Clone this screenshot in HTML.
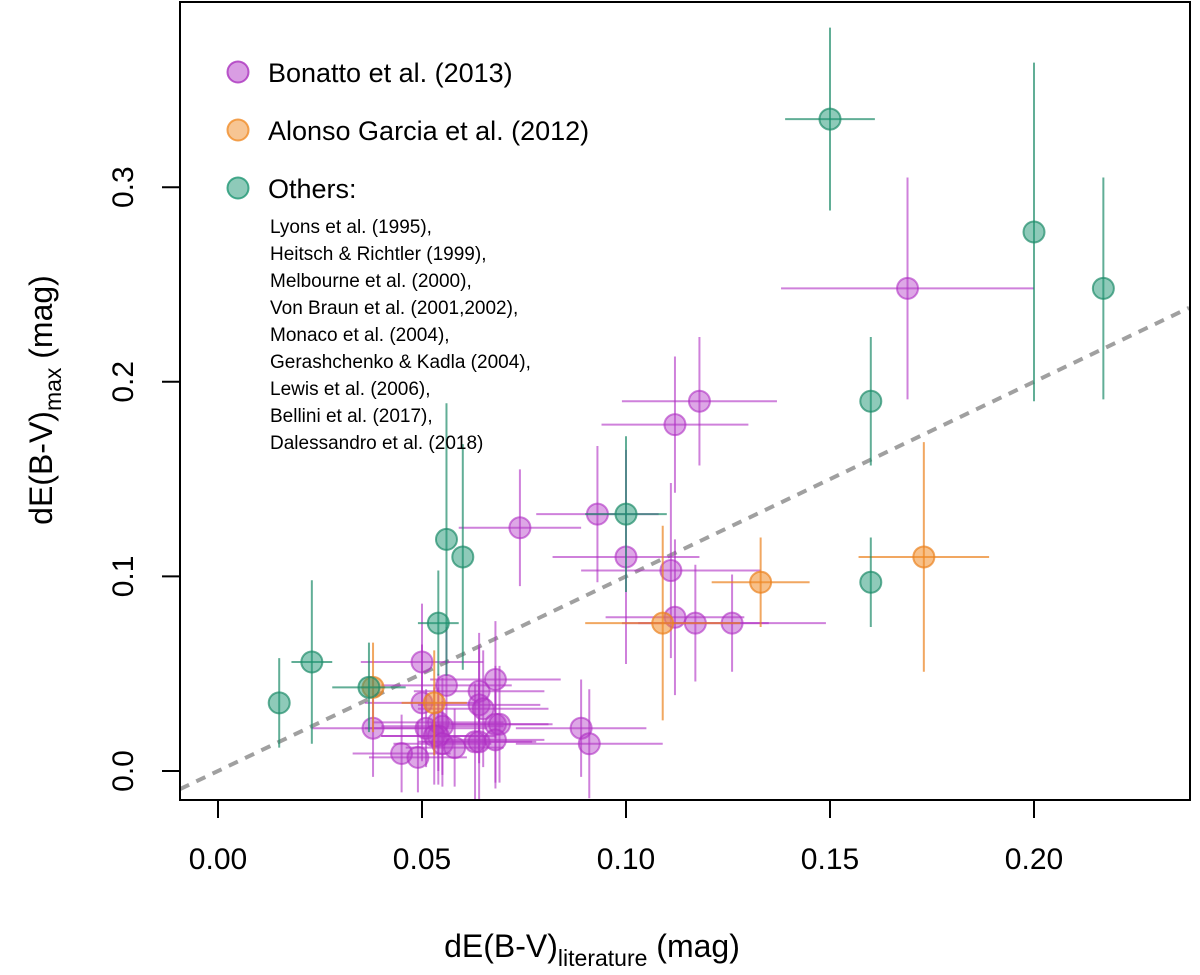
<!DOCTYPE html>
<html><head><meta charset="utf-8"><style>
body{margin:0;background:#fff;}
svg text{font-family:"Liberation Sans",Arial,sans-serif;}
</style></head><body>
<svg id="chart" width="1200" height="970" xmlns="http://www.w3.org/2000/svg">
<g id="marks"></g>
<rect x="180" y="2" width="1010" height="798" fill="none" stroke="#000" stroke-width="2"/>
<g id="axes"></g>
<text x="592" y="957" font-size="32" text-anchor="middle">dE(B-V)<tspan font-size="23" dy="9">literature</tspan><tspan dy="-9"> (mag)</tspan></text>
<text transform="translate(52,400) rotate(-90)" font-size="32" text-anchor="middle">dE(B-V)<tspan font-size="23" dy="9">max</tspan><tspan dy="-9"> (mag)</tspan></text>
<g>
<circle cx="238" cy="72" r="10.5" fill="rgba(180,60,200,0.5)" stroke="rgba(170,50,190,0.8)" stroke-width="2"/>
<text x="268" y="82" font-size="27">Bonatto et al. (2013)</text>
<circle cx="238" cy="130" r="10.5" fill="rgba(240,140,40,0.5)" stroke="rgba(240,140,40,0.8)" stroke-width="2"/>
<text x="268" y="140" font-size="27">Alonso Garcia et al. (2012)</text>
<circle cx="238" cy="188" r="10.5" fill="rgba(30,150,115,0.5)" stroke="rgba(30,150,115,0.8)" stroke-width="2"/>
<text x="268" y="198" font-size="27">Others:</text>
<g font-size="19">
<text x="270" y="233">Lyons et al. (1995),</text>
<text x="270" y="260">Heitsch &amp; Richtler (1999),</text>
<text x="270" y="287">Melbourne et al. (2000),</text>
<text x="270" y="314">Von Braun et al. (2001,2002),</text>
<text x="270" y="341">Monaco et al. (2004),</text>
<text x="270" y="368">Gerashchenko &amp; Kadla (2004),</text>
<text x="270" y="395">Lewis et al. (2006),</text>
<text x="270" y="422">Bellini et al. (2017),</text>
<text x="270" y="449">Dalessandro et al. (2018)</text>
</g></g>
</svg>
<script>
const xTicks=[0,0.05,0.10,0.15,0.20];
const xTickLabels=["0.00","0.05","0.10","0.15","0.20"];
const yTicks=[0,0.1,0.2,0.3];
const yTickLabels=["0.0","0.1","0.2","0.3"];
const bonX=[0.050,0.038,0.050,0.056,0.064,0.068,0.064,0.065,0.051,0.054,0.055,0.054,0.053,0.055,0.058,0.045,0.049,0.063,0.064,0.068,0.069,0.068,0.089,0.091,0.118,0.112,0.074,0.093,0.100,0.111,0.112,0.117,0.126,0.169];
const bonY=[0.056,0.022,0.035,0.044,0.041,0.047,0.034,0.032,0.022,0.025,0.023,0.018,0.018,0.014,0.012,0.009,0.007,0.015,0.015,0.024,0.024,0.016,0.022,0.014,0.190,0.178,0.125,0.132,0.110,0.103,0.079,0.076,0.076,0.248];
const bonXerr=[0.015,0.015,0.014,0.016,0.016,0.016,0.015,0.016,0.015,0.016,0.015,0.014,0.013,0.012,0.012,0.012,0.012,0.014,0.014,0.014,0.012,0.012,0.016,0.018,0.019,0.018,0.015,0.015,0.018,0.022,0.017,0.018,0.023,0.031];
const bonYerr=[0.030,0.025,0.030,0.030,0.030,0.030,0.030,0.030,0.020,0.025,0.025,0.025,0.025,0.022,0.020,0.020,0.018,0.030,0.030,0.030,0.030,0.025,0.025,0.028,0.033,0.035,0.030,0.035,0.055,0.045,0.040,0.030,0.025,0.057];
const aloX=[0.053,0.038,0.109,0.133,0.173];
const aloY=[0.035,0.043,0.076,0.097,0.110];
const aloXerr=[0.008,0.003,0.019,0.012,0.016];
const aloYerr=[0.027,0.023,0.050,0.023,0.059];
const othX=[0.015,0.023,0.037,0.056,0.060,0.054,0.100,0.150,0.200,0.217,0.160,0.160];
const othY=[0.035,0.056,0.043,0.119,0.110,0.076,0.132,0.335,0.277,0.248,0.190,0.097];
const othXerr=[0.000,0.005,0.009,0.000,0.000,0.005,0.010,0.011,0.000,0.000,0.000,0.000];
const othYerr=[0.023,0.042,0.023,0.070,0.058,0.027,0.040,0.047,0.087,0.057,0.033,0.023];
const NS="http://www.w3.org/2000/svg";
function X(v){return 218+v*4080;}
function Y(v){return 771-v*1946;}
const marks=document.getElementById('marks'), axes=document.getElementById('axes');
function mk(tag,attrs,parent){const e=document.createElementNS(NS,tag);for(const k in attrs)e.setAttribute(k,attrs[k]);parent.appendChild(e);return e;}
const line=mk('line',{x1:X(-0.0093),y1:Y(-0.0093),x2:X(0.238),y2:Y(0.238),stroke:'#a0a0a0','stroke-width':4,'stroke-dasharray':'10,8'},marks);


function series(xs,ys,xe,ye,col,fill,name){
  const g=mk('g',{},marks);
  
  
  for(let i=0;i<xs.length;i++){
    if(xe[i]>0){const l=mk('line',{x1:X(xs[i]-xe[i]),x2:X(xs[i]+xe[i]),y1:Y(ys[i]),y2:Y(ys[i]),stroke:col,'stroke-width':2},g);
      
      }
    if(ye[i]>0){const l=mk('line',{x1:X(xs[i]),x2:X(xs[i]),y1:Y(ys[i]-ye[i]),y2:Y(ys[i]+ye[i]),stroke:col,'stroke-width':2},g);
      
      }
  }
  for(let i=0;i<xs.length;i++){
    const c=mk('circle',{cx:X(xs[i]),cy:Y(ys[i]),r:10.5,fill:fill,stroke:col,'stroke-width':2},g);
    
    
  }
}
series(bonX,bonY,bonXerr,bonYerr,'rgba(175,45,195,0.6)','rgba(180,60,200,0.45)','bonatto');
series(aloX,aloY,aloXerr,aloYerr,'rgba(235,130,30,0.7)','rgba(240,140,40,0.55)','alonso');
series(othX,othY,othXerr,othYerr,'rgba(30,140,105,0.7)','rgba(30,150,115,0.5)','others');
xTicks.forEach((v,i)=>{
  const t=mk('line',{x1:X(v),x2:X(v),y1:800,y2:818,stroke:'#000','stroke-width':2},axes);
  
  
  const tx=mk('text',{x:X(v),y:869,'font-size':30,'text-anchor':'middle'},axes);tx.textContent=xTickLabels[i];
  
  
});
yTicks.forEach((v,i)=>{
  const t=mk('line',{x1:162,x2:180,y1:Y(v),y2:Y(v),stroke:'#000','stroke-width':2},axes);
  
  
  const tx=mk('text',{x:0,y:0,'font-size':30,'text-anchor':'middle',transform:`translate(133,${Y(v)}) rotate(-90)`},axes);tx.textContent=yTickLabels[i];
  
  
});
</script>
</body></html>
